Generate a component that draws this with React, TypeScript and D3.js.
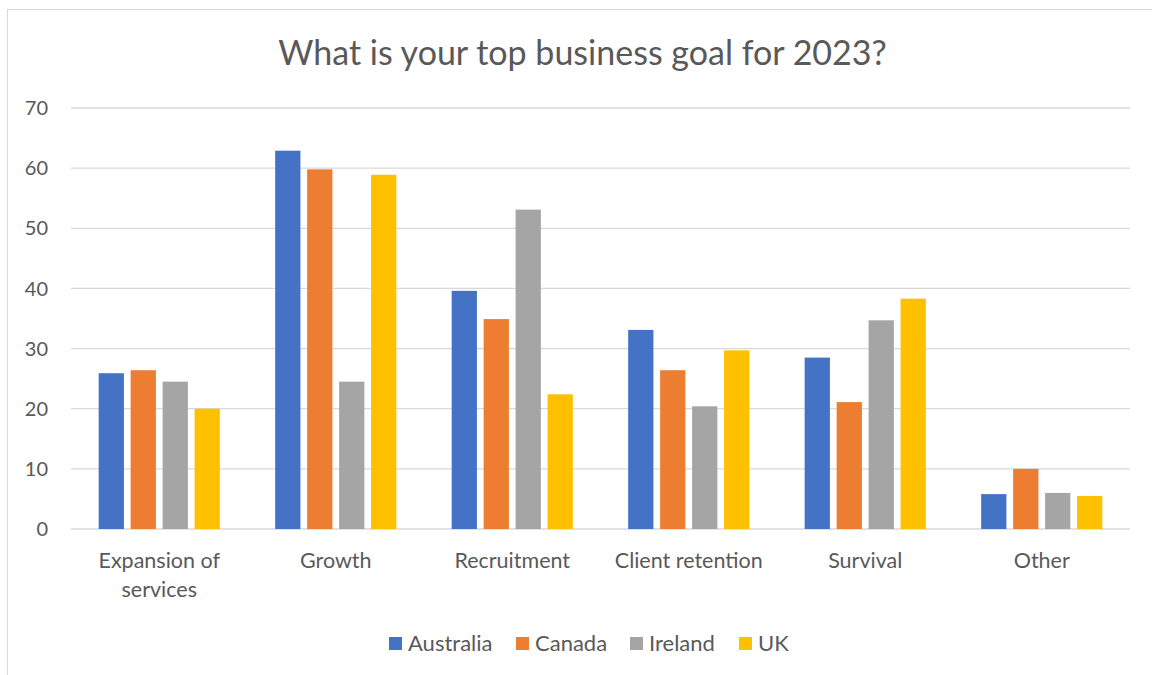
import React from "react";
import * as d3 from "d3";

const categories = ["Expansion of services", "Growth", "Recruitment", "Client retention", "Survival", "Other"];
const categoryLines = [["Expansion of", "services"], ["Growth"], ["Recruitment"], ["Client retention"], ["Survival"], ["Other"]];
const seriesNames = ["Australia", "Canada", "Ireland", "UK"];
const australia = [25.9, 62.9, 39.6, 33.1, 28.5, 5.8];
const canada = [26.4, 59.8, 34.9, 26.4, 21.1, 10.0];
const ireland = [24.5, 24.5, 53.1, 20.4, 34.7, 6.0];
const uk = [20.0, 58.9, 22.4, 29.7, 38.3, 5.5];
const seriesValues = [australia, canada, ireland, uk];
const colors = ["#4472C4", "#ED7D31", "#A5A5A5", "#FFC000"];
const yTicks = [0, 10, 20, 30, 40, 50, 60, 70];
const title = "What is your top business goal for 2023?";

const FONT = "Lato, 'Open Sans', sans-serif";
const TXT = "#595959";

export default function App() {
  const left = 71, right = 1130, top = 108, bottom = 529;
  const x0 = d3.scaleBand<string>().domain(categories).range([left, right]).paddingInner(0.3135).paddingOuter(0.15675);
  const x1 = d3.scaleBand<string>().domain(seriesNames).range([0, x0.bandwidth()]).paddingInner(0.21).paddingOuter(0);
  const y = d3.scaleLinear().domain([0, 70]).range([bottom, top]);
  const step = (right - left) / categories.length;

  const legendX = [389, 516, 630, 739];

  return (
    <svg width={1152} height={675} style={{ position: "absolute", left: 0, top: 0, background: "#fff" }} fontFamily={FONT}>
      <rect x={7.5} y={9.5} width={1160} height={680} fill="#fff" stroke="#d9d9d9" strokeWidth={1} />
      <text x={582.5} y={65} textAnchor="middle" fontSize={34} fill={TXT}>{title}</text>
      {yTicks.map((t) => (
        <g key={t}>
          <line x1={left} x2={right} y1={y(t)} y2={y(t)} stroke="#d9d9d9" strokeWidth={1.3} />
          <text x={48} y={y(t)} dy="0.36em" textAnchor="end" fontSize={20} fill={TXT}>{t}</text>
        </g>
      ))}
      {categories.map((c, ci) => (
        <g key={c}>
          {seriesNames.map((s, si) => {
            const v = seriesValues[si][ci];
            return (
              <rect key={s} x={(x0(c) as number) + (x1(s) as number)} y={y(v)} width={x1.bandwidth()} height={y(0) - y(v)} fill={colors[si]} />
            );
          })}
          {categoryLines[ci].map((ln, li) => (
            <text key={li} x={left + step * (ci + 0.5)} y={567.5 + li * 29} textAnchor="middle" fontSize={21.5} fill={TXT}>{ln}</text>
          ))}
        </g>
      ))}
      {seriesNames.map((s, si) => (
        <g key={s}>
          <rect x={legendX[si]} y={637} width={13} height={13} fill={colors[si]} />
          <text x={legendX[si] + 19} y={650.5} fontSize={22} fill={TXT}>{s}</text>
        </g>
      ))}
    </svg>
  );
}
